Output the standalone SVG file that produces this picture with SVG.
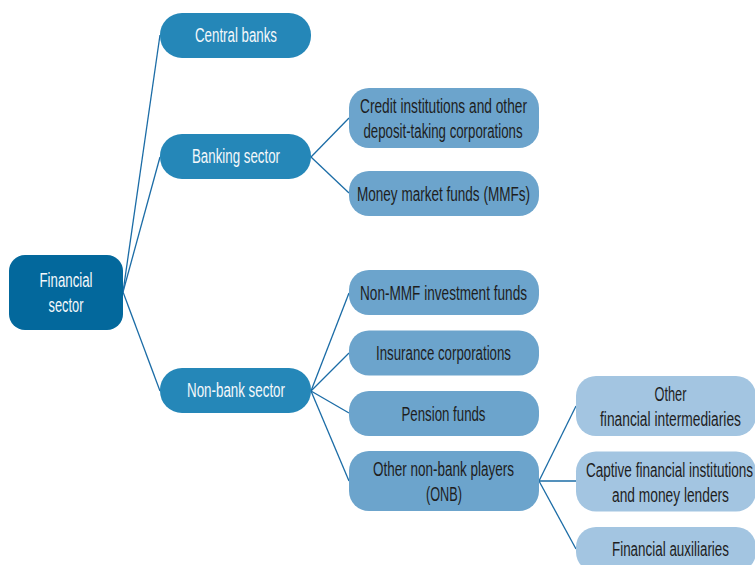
<svg xmlns="http://www.w3.org/2000/svg" width="755" height="565" viewBox="0 0 755 565">
<style>
text{font-family:"Liberation Sans",Arial,sans-serif;font-size:20px;text-anchor:middle}
.l0{fill:#03689c}
.l1{fill:#2587b8}
.l2{fill:#6ca4cc}
.l3{fill:#a3c5e1}
.tw{fill:#f4f8fb}
.td{fill:#1e1e1e}
.c{stroke:#1b6ca6;stroke-width:1.3;fill:none}
</style>
<rect width="755" height="565" fill="#ffffff"/>
<g id="connectors">
<line class="c" x1="123" y1="292" x2="160" y2="35"/>
<line class="c" x1="123" y1="292" x2="160" y2="157"/>
<line class="c" x1="123" y1="292" x2="160" y2="391"/>
<line class="c" x1="311" y1="157" x2="349" y2="118"/>
<line class="c" x1="311" y1="157" x2="349" y2="193"/>
<line class="c" x1="311" y1="391" x2="349" y2="293"/>
<line class="c" x1="311" y1="391" x2="349" y2="353"/>
<line class="c" x1="311" y1="391" x2="349" y2="413"/>
<line class="c" x1="311" y1="391" x2="349" y2="481"/>
<line class="c" x1="539" y1="481" x2="576" y2="406"/>
<line class="c" x1="539" y1="481" x2="576" y2="481"/>
<line class="c" x1="539" y1="481" x2="576" y2="549"/>
</g>
<g id="financial-sector">
<rect class="l0" x="9" y="255" width="114" height="75" rx="16"/>
<text class="tw" x="66" y="287" textLength="53" lengthAdjust="spacingAndGlyphs">Financial</text>
<text class="tw" x="66" y="312" textLength="35" lengthAdjust="spacingAndGlyphs">sector</text>
</g>
<g id="central-banks">
<rect class="l1" x="160" y="13" width="151" height="45" rx="22"/>
<text class="tw" x="236" y="42" textLength="82" lengthAdjust="spacingAndGlyphs">Central banks</text>
</g>
<g id="banking-sector">
<rect class="l1" x="160" y="134" width="151" height="45" rx="22"/>
<text class="tw" x="236" y="163" textLength="88" lengthAdjust="spacingAndGlyphs">Banking sector</text>
</g>
<g id="non-bank-sector">
<rect class="l1" x="160" y="368" width="151" height="45" rx="22"/>
<text class="tw" x="236" y="397" textLength="98" lengthAdjust="spacingAndGlyphs">Non-bank sector</text>
</g>
<g id="credit-institutions">
<rect class="l2" x="349" y="88" width="190" height="60" rx="20"/>
<text class="td" x="443.5" y="113" textLength="167" lengthAdjust="spacingAndGlyphs">Credit institutions and other</text>
<text class="td" x="443" y="138" textLength="159" lengthAdjust="spacingAndGlyphs">deposit-taking corporations</text>
</g>
<g id="mmf">
<rect class="l2" x="349" y="171" width="190" height="45" rx="20"/>
<text class="td" x="443.5" y="200.5" textLength="173" lengthAdjust="spacingAndGlyphs">Money market funds (MMFs)</text>
</g>
<g id="non-mmf">
<rect class="l2" x="349" y="270" width="190" height="45" rx="20"/>
<text class="td" x="443.5" y="299.5" textLength="167" lengthAdjust="spacingAndGlyphs">Non-MMF investment funds</text>
</g>
<g id="insurance">
<rect class="l2" x="349" y="330.5" width="190" height="45" rx="20"/>
<text class="td" x="443.5" y="360" textLength="135" lengthAdjust="spacingAndGlyphs">Insurance corporations</text>
</g>
<g id="pension">
<rect class="l2" x="349" y="391" width="190" height="45" rx="20"/>
<text class="td" x="443.5" y="420.5" textLength="84" lengthAdjust="spacingAndGlyphs">Pension funds</text>
</g>
<g id="other-non-bank">
<rect class="l2" x="349" y="451" width="190" height="60" rx="20"/>
<text class="td" x="443.5" y="476" textLength="141" lengthAdjust="spacingAndGlyphs">Other non-bank players</text>
<text class="td" x="444" y="501" textLength="36" lengthAdjust="spacingAndGlyphs">(ONB)</text>
</g>
<g id="other-financial-intermediaries">
<rect class="l3" x="576" y="376" width="180" height="60" rx="20"/>
<text class="td" x="670.5" y="401" textLength="32" lengthAdjust="spacingAndGlyphs">Other</text>
<text class="td" x="670.5" y="426" textLength="141" lengthAdjust="spacingAndGlyphs">financial intermediaries</text>
</g>
<g id="captive">
<rect class="l3" x="576" y="451.5" width="180" height="60" rx="20"/>
<text class="td" x="669.5" y="476.5" textLength="167" lengthAdjust="spacingAndGlyphs">Captive financial institutions</text>
<text class="td" x="670.5" y="501.5" textLength="117" lengthAdjust="spacingAndGlyphs">and money lenders</text>
</g>
<g id="financial-auxiliaries">
<rect class="l3" x="576" y="527" width="180" height="45" rx="20"/>
<text class="td" x="670.5" y="555.5" textLength="117" lengthAdjust="spacingAndGlyphs">Financial auxiliaries</text>
</g>
</svg>
